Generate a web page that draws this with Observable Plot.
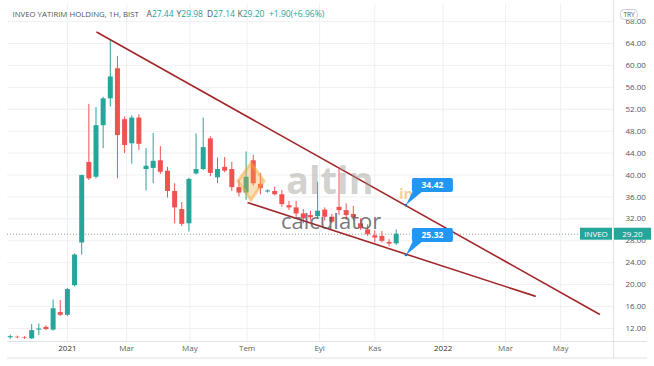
<!DOCTYPE html>
<html><head><meta charset="utf-8">
<script src="https://cdn.jsdelivr.net/npm/d3@7"></script>
<script src="https://cdn.jsdelivr.net/npm/@observablehq/plot@0.6"></script>
<style>
html,body{margin:0;padding:0;background:#fff;}
#chart{width:654px;height:366px;}
svg{font-family:"Open Sans","Noto Sans",sans-serif;}
</style></head>
<body><div id="chart"></div>
<script>
// ---- data (weekly bars, BIST:INVEO) ----
const dates = ["2020-11-09","2020-11-16","2020-11-23","2020-11-30","2020-12-07","2020-12-14","2020-12-21","2020-12-28",
"2021-01-04","2021-01-11","2021-01-18","2021-01-25","2021-02-01","2021-02-08","2021-02-15","2021-02-22",
"2021-03-01","2021-03-08","2021-03-15","2021-03-22","2021-03-29","2021-04-05","2021-04-12","2021-04-19","2021-04-26",
"2021-05-03","2021-05-10","2021-05-17","2021-05-24","2021-05-31","2021-06-07","2021-06-14","2021-06-21","2021-06-28",
"2021-07-05","2021-07-12","2021-07-19","2021-07-26","2021-08-02","2021-08-09","2021-08-16","2021-08-23","2021-08-30",
"2021-09-06","2021-09-13","2021-09-20","2021-09-27","2021-10-04","2021-10-11","2021-10-18","2021-10-25",
"2021-11-01","2021-11-08","2021-11-15","2021-11-22"];
const open  = [10.3,10.4,10.3,10.1,11.7,12.2,11.7,14.9, 14.4,19.8,27.6,42.3,39.6,49.0,53.9,59.4, 50.1,45.7,50.4,41.0,41.2,42.6,40.7,37.0,33.7, 31.1,40.2,41.0,46.6,39.5,41.4,41.0,37.7,36.7, 42.6,38.3,36.9,37.0,36.4,34.4,34.0,32.9,32.6, 32.4,33.6,32.3,34.1,33.5,32.8,31.1,30.0, 28.9,28.8,27.7,27.44];
const high  = [10.8,10.6,10.5,12.7,12.8,12.5,17.2,17.1, 19.3,25.6,40.0,52.9,52.3,54.2,64.5,61.6, 50.6,50.8,51.0,44.8,47.6,45.2,41.4,38.4,35.0, 39.4,47.5,50.4,47.0,43.1,43.2,42.3,39.1,44.2, 43.6,40.3,37.3,37.8,37.2,35.2,35.2,33.7,33.4, 38.7,34.0,32.8,41.0,34.75,34.3,32.0,30.9, 29.8,29.7,28.2,29.98];
const low   = [10.0,10.1,10.0,10.0,10.7,11.6,11.5,14.2, 14.2,19.6,25.4,39.0,39.3,44.8,52.4,39.3, 43.9,42.0,44.5,37.1,38.4,40.1,35.8,31.1,30.6, 29.6,40.0,40.8,39.7,38.4,40.4,37.0,36.0,35.4, 38.0,36.4,36.7,36.2,34.1,33.5,32.3,31.1,31.6, 32.0,31.6,31.1,32.6,31.7,31.6,29.9,28.8, 27.6,27.6,26.9,27.14];
const close = [10.5,10.3,10.2,11.6,11.9,11.8,15.6,14.4, 19.1,25.4,39.9,39.3,49.0,53.9,57.9,47.2, 45.4,50.4,45.6,41.6,42.5,40.5,37.0,34.0,31.0, 39.2,41.0,45.0,40.3,41.0,40.7,37.7,36.7,39.6, 38.4,37.5,37.1,36.4,34.6,34.0,32.9,32.0,32.2, 33.4,32.3,31.4,33.5,32.6,32.2,30.2,29.1, 28.5,27.9,27.4,29.20];

// trend lines (drawn on the chart)
const upperDates = ["2021-02-02","2022-06-09"];
const upperVals  = [66.06, 14.6];
const lowerDates = ["2021-06-30","2022-04-07"];
const lowerVals  = [34.93, 17.9];
// price callouts
const calloutDates = ["2021-12-02","2021-12-02"];
const calloutVals  = [34.42, 25.32];
const lastPrice = 29.20;

// axis ticks
const xTickDates  = ["2021-01-04","2021-03-03","2021-05-04","2021-06-29","2021-09-08","2021-11-01","2022-01-07","2022-03-09","2022-05-02"];
const xTickLabels = ["2021","Mar","May","Tem","Eyl","Kas","2022","Mar","May"];
const yTicks = [12,16,20,24,28,32,36,40,44,48,52,56,60,64,68];

const GREEN = "#26a69a", RED = "#ef5350", TREND = "#a3282a", GRID = "#eef0f4";

const bars = dates.map((d,i)=>({date:new Date(d), o:open[i], h:high[i], l:low[i], c:close[i]}));
const upper = upperDates.map((d,i)=>({date:new Date(d), v:upperVals[i]}));
const lower = lowerDates.map((d,i)=>({date:new Date(d), v:lowerVals[i]}));
const xt = xTickDates.map(d=>new Date(d));
const labelOf = new Map(xt.map((d,i)=>[+d, xTickLabels[i]]));
const isYear = d => /^\d{4}$/.test(labelOf.get(+d));

const col = d => d.c >= d.o ? GREEN : RED;

const plot = Plot.plot({
  width: 654, height: 366,
  marginLeft: 7, marginRight: 41, marginTop: 4, marginBottom: 25,
  style: {fontSize: "8px", fontFamily: "'Open Sans','Noto Sans',sans-serif", background: "#fff", overflow: "visible"},
  x: {type: "utc", domain: [new Date("2020-11-06T08:00Z"), new Date("2022-06-22T19:00Z")]},
  y: {domain: [9.62, 71.12]},
  marks: [
    Plot.gridY(yTicks, {stroke: GRID, strokeOpacity: 1}),
    Plot.gridX(xt, {stroke: GRID, strokeOpacity: 1}),
    Plot.axisY(yTicks, {anchor: "right", tickSize: 0, tickPadding: 12, tickFormat: d => d.toFixed(2), fill: "#555", label: null}),
    Plot.axisX(xt.filter(d=>!isYear(d)), {tickSize: 0, tickPadding: 4, tickFormat: d => labelOf.get(+d), fill: "#666", label: null}),
    Plot.axisX(xt.filter(d=>isYear(d)), {tickSize: 0, tickPadding: 4, tickFormat: d => labelOf.get(+d), fill: "#333", label: null}),
    Plot.ruleY([lastPrice], {stroke: "#8fa3a3", strokeDasharray: "1,2", strokeWidth: 1}),
    Plot.ruleX(bars, {x: "date", y1: "l", y2: "h", stroke: col, strokeWidth: 1}),
    Plot.ruleX(bars, {x: "date", y1: "o", y2: "c", stroke: col, strokeWidth: 5, strokeLinecap: "butt"}),
    Plot.line(upper, {x: "date", y: "v", stroke: TREND, strokeWidth: 1.6}),
    Plot.line(lower, {x: "date", y: "v", stroke: TREND, strokeWidth: 1.6})
  ]
});
document.getElementById("chart").appendChild(plot);

const sx = plot.scale("x"), sy = plot.scale("y");
const svg = d3.select(plot);
const X0 = sx.range[0], X1 = sx.range[1], Yb = sy.range[0];

// frame lines
const fr = svg.append("g").attr("stroke", "#e0e3eb").attr("stroke-width", 1).attr("fill", "none");
fr.append("line").attr("x1", X0).attr("x2", 647).attr("y1", Yb + 0.5).attr("y2", Yb + 0.5);
fr.append("line").attr("x1", X0).attr("x2", 647).attr("y1", Yb + 17).attr("y2", Yb + 17);
fr.append("line").attr("x1", X1 + 0.5).attr("x2", X1 + 0.5).attr("y1", 0).attr("y2", Yb + 17);

// watermark
const wm = svg.append("g").attr("pointer-events", "none").attr("text-anchor", "start");
wm.append("path").attr("d", "M251,163 L264,181 L251,200 L238,181 Z").attr("fill", "#f2a93b").attr("fill-opacity", 0.35).attr("stroke", "#f2a93b").attr("stroke-opacity", 0.5).attr("stroke-width", 3);
wm.append("text").attr("x", 286).attr("y", 194).attr("font-size", 38).attr("font-weight", 700).attr("fill", "#9a9a90").attr("fill-opacity", 0.45).attr("font-family", "'Open Sans',sans-serif").text("altin");
wm.append("text").attr("x", 399).attr("y", 199).attr("font-size", 15).attr("font-weight", 700).attr("fill", "#f2a93b").attr("fill-opacity", 0.55).attr("font-family", "'Open Sans',sans-serif").text("in");
wm.append("text").attr("x", 281).attr("y", 229).attr("font-size", 22).attr("fill", "#555").attr("fill-opacity", 0.8).attr("font-family", "'Open Sans',sans-serif").text("calculator");

// last price labels
const yp = sy.apply(lastPrice);
const pl = svg.append("g");
pl.append("rect").attr("x", 580).attr("y", yp - 6).attr("width", 32).attr("height", 12).attr("fill", GREEN);
pl.append("text").attr("x", 596).attr("y", yp).attr("dy", "0.35em").attr("text-anchor", "middle").attr("fill", "#fff").attr("font-size", 8).text("INVEO");
pl.append("rect").attr("x", X1 + 1).attr("y", yp - 6).attr("width", 37).attr("height", 12).attr("fill", GREEN);
pl.append("text").attr("x", X1 + 19.5).attr("y", yp).attr("dy", "0.35em").attr("text-anchor", "middle").attr("fill", "#fff").attr("font-size", 8).text(lastPrice.toFixed(2));

// TRY box
svg.append("rect").attr("x", 620.5).attr("y", 9.5).attr("width", 17).attr("height", 10).attr("rx", 4).attr("fill", "#fff").attr("stroke", "#c9cdd6");
svg.append("text").attr("x", 629).attr("y", 14.5).attr("dy", "0.35em").attr("text-anchor", "middle").attr("font-size", 6.5).attr("fill", "#555").text("TRY");

// callouts
calloutDates.forEach((d,i)=>{
  const px = sx.apply(new Date(d)), py = sy.apply(calloutVals[i]);
  const g = svg.append("g");
  g.append("path").attr("d", `M${px},${py} L${px+7},${py-14} L${px+17},${py-14} Z`).attr("fill", "#2196f3");
  g.append("rect").attr("x", px + 6).attr("y", py - 27).attr("width", 41).attr("height", 14).attr("rx", 2).attr("fill", "#2196f3");
  g.append("text").attr("x", px + 26.5).attr("y", py - 20).attr("dy", "0.35em").attr("text-anchor", "middle").attr("fill", "#fff").attr("font-size", 8.5).attr("font-weight", 700).text(calloutVals[i].toFixed(2));
  g.append("circle").attr("cx", px).attr("cy", py).attr("r", 1.3).attr("fill", "#1e6fb8");
});

// header
const last = bars[bars.length-1];
const hd = svg.append("text").attr("y", 14).attr("dy", "0.35em").attr("font-size", 8.5).attr("fill", "#555").attr("text-anchor", "start");
const seg = (x, t, f) => hd.append("tspan").attr("x", x).attr("fill", f).text(t);
seg(12.5, "INVEO YATIRIM HOLDING, 1H, BIST", "#555").attr("font-size", 7.8);
seg(146.5, "A", "#555"); hd.append("tspan").attr("fill", GREEN).text(last.o.toFixed(2));
seg(176.5, "Y", "#555"); hd.append("tspan").attr("fill", GREEN).text(last.h.toFixed(2));
seg(207, "D", "#555"); hd.append("tspan").attr("fill", GREEN).text(last.l.toFixed(2));
seg(237.5, "K", "#555"); hd.append("tspan").attr("fill", GREEN).text(last.c.toFixed(2));
seg(269, "+1.90", GREEN);
seg(290.5, "(+6.96%)", GREEN);
</script>
</body></html>
